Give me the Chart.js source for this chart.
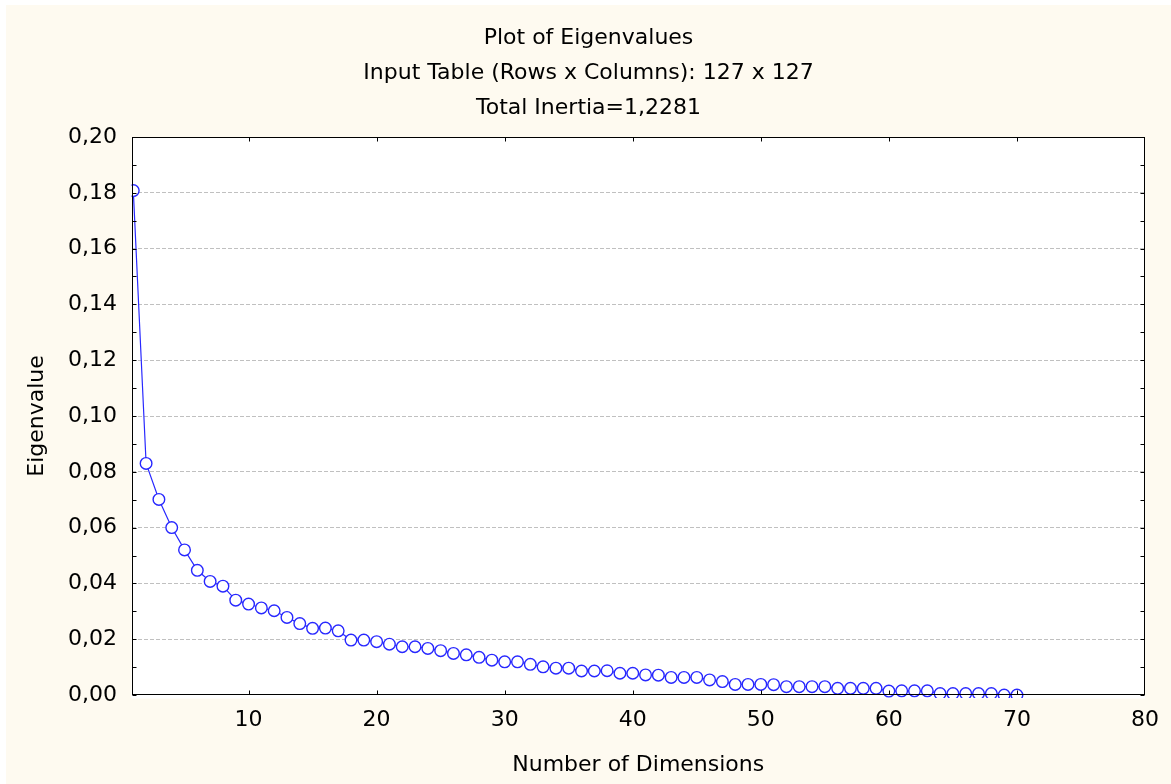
<!DOCTYPE html>
<html>
<head>
<meta charset="utf-8">
<title>Plot of Eigenvalues</title>
<script src="https://cdn.jsdelivr.net/npm/chart.js@4.4.1/dist/chart.umd.min.js"></script>
<style>
  html, body { margin: 0; padding: 0; background: #ffffff; }
  #wrap { position: absolute; left: 6px; top: 5px; width: 1165px; height: 779px; background: #fefaf0; }
</style>
</head>
<body>
<div id="wrap"><canvas id="chartEigen" width="1165" height="779"></canvas></div>
<script>
// eigenvalues, one per dimension
const eigenvalues = [
    0.1808, 0.0830, 0.0701, 0.0600, 0.0520, 0.0447, 0.0407, 0.0390, 0.0340, 0.0326,
    0.0312, 0.0302, 0.0278, 0.0256, 0.0239, 0.0240, 0.0230, 0.0197, 0.0197, 0.0191,
    0.0182, 0.0173, 0.0173, 0.0167, 0.0159, 0.0149, 0.0144, 0.0135, 0.0125, 0.0119,
    0.0119, 0.0110, 0.0101, 0.0096, 0.0096, 0.0086, 0.0086, 0.0087, 0.0078, 0.0078,
    0.0072, 0.0071, 0.0063, 0.0063, 0.0063, 0.0054, 0.0048, 0.0038, 0.0038, 0.0038,
    0.0037, 0.0030, 0.0030, 0.0030, 0.0030, 0.0024, 0.0024, 0.0024, 0.0024, 0.0014,
    0.0015, 0.0015, 0.0015, 0.0005, 0.0005, 0.0005, 0.0005, 0.0005, 0.0000, 0.0000
];
const dimensions = eigenvalues.map((v, i) => i + 1);

const xTicks = [10, 20, 30, 40, 50, 60, 70, 80];
const yTicks = [0, 0.02, 0.04, 0.06, 0.08, 0.10, 0.12, 0.14, 0.16, 0.18, 0.20];

const titleLines = [
    'Plot of Eigenvalues',
    'Input Table (Rows x Columns): 127 x 127',
    'Total Inertia=1,2281'
];

const lineBlue = 'rgb(40, 40, 255)';

// white plot box, black frame and inward tick marks like the original
const framePlugin = {
    id: 'frame',
    beforeDraw(chart) {
        const {ctx, chartArea: a} = chart;
        ctx.save();
        ctx.fillStyle = '#ffffff';
        ctx.fillRect(a.left, a.top, a.right - a.left, a.bottom - a.top + 3.5);
        ctx.restore();
    },
    afterDraw(chart) {
        const {ctx, chartArea: a, scales} = chart;
        const sx = scales.x, sy = scales.y;
        const L = Math.round(a.left) + 0.5, R = Math.round(a.right) - 0.5;
        const T = Math.round(a.top) + 0.5, B = Math.round(a.bottom) - 0.5;
        const len = 4;
        ctx.save();
        ctx.strokeStyle = '#000000';
        ctx.lineWidth = 1;
        ctx.beginPath();
        xTicks.forEach(v => {
            const px = Math.round(sx.getPixelForValue(v)) + 0.5;
            if (px >= R - 1) return;
            ctx.moveTo(px, B); ctx.lineTo(px, B - len);
            ctx.moveTo(px, T); ctx.lineTo(px, T + len);
        });
        // major ticks plus a minor tick half way between each pair
        const yMarks = [];
        yTicks.forEach((v, i) => {
            yMarks.push(v);
            if (i < yTicks.length - 1) yMarks.push((v + yTicks[i + 1]) / 2);
        });
        yMarks.forEach(v => {
            const py = Math.round(sy.getPixelForValue(v)) + 0.5;
            ctx.moveTo(L, py); ctx.lineTo(L + len, py);
            ctx.moveTo(R, py); ctx.lineTo(R - len, py);
        });
        ctx.stroke();
        ctx.strokeRect(L, T, R - L, B - T);
        ctx.restore();
    }
};

Chart.defaults.font.family = '"DejaVu Sans", sans-serif';
Chart.defaults.font.size = 22;
Chart.defaults.color = '#000000';

const ctx = document.getElementById('chartEigen').getContext('2d');
const myChart = new Chart(ctx, {
    type: 'line',
    data: {
        labels: dimensions,
        datasets: [{
            label: 'Eigenvalue',
            data: dimensions.map((d, i) => ({x: d, y: eigenvalues[i]})),
            borderColor: lineBlue,
            borderWidth: 1.2,
            pointRadius: 5.8,
            pointBorderWidth: 1.4,
            pointBorderColor: lineBlue,
            pointBackgroundColor: '#ffffff',
            tension: 0,
            fill: false,
            clip: {left: 0, top: 10, right: 10, bottom: 3}
        }]
    },
    options: {
        responsive: false,
        animation: false,
        events: [],
        layout: { padding: 0 },
        plugins: {
            legend: { display: false },
            tooltip: { enabled: false },
            title: {
                display: true,
                text: titleLines,
                color: '#000000',
                font: { size: 22, weight: 'normal', lineHeight: '35px' },
                padding: { top: 16.2, bottom: 10.8 }
            }
        },
        scales: {
            x: {
                type: 'linear',
                min: 0.86,
                max: 80,
                afterBuildTicks: s => { s.ticks = xTicks.map(v => ({value: v})); },
                afterFit: s => { s.height = 89; },
                grid: { display: false, drawTicks: false },
                border: { display: false },
                ticks: { padding: 12, maxRotation: 0, callback: v => v },
                title: {
                    display: true,
                    text: 'Number of Dimensions',
                    font: { size: 22 },
                    padding: { top: 0, bottom: 5.8 }
                }
            },
            y: {
                type: 'linear',
                min: 0,
                max: 0.2,
                afterBuildTicks: s => { s.ticks = yTicks.map(v => ({value: v})); },
                afterFit: s => { s.width = 125.5; },
                grid: {
                    drawTicks: false,
                    lineWidth: 1,
                    color: c => (c.index === 0 || c.index === yTicks.length - 1) ? 'rgba(0,0,0,0)' : '#c0c0c0'
                },
                border: { display: false, dash: [4, 2] },
                ticks: {
                    padding: 14.5,
                    callback: v => v.toFixed(2).replace('.', ',')
                },
                title: {
                    display: true,
                    text: 'Eigenvalue',
                    font: { size: 22 },
                    padding: { top: 17.8, bottom: 0 }
                }
            },
            yRight: {
                type: 'linear',
                position: 'right',
                display: true,
                afterFit: s => { s.width = 20; },
                grid: { display: false, drawTicks: false },
                border: { display: false },
                ticks: { display: false }
            }
        }
    },
    plugins: [framePlugin]
});
</script>
</body>
</html>
